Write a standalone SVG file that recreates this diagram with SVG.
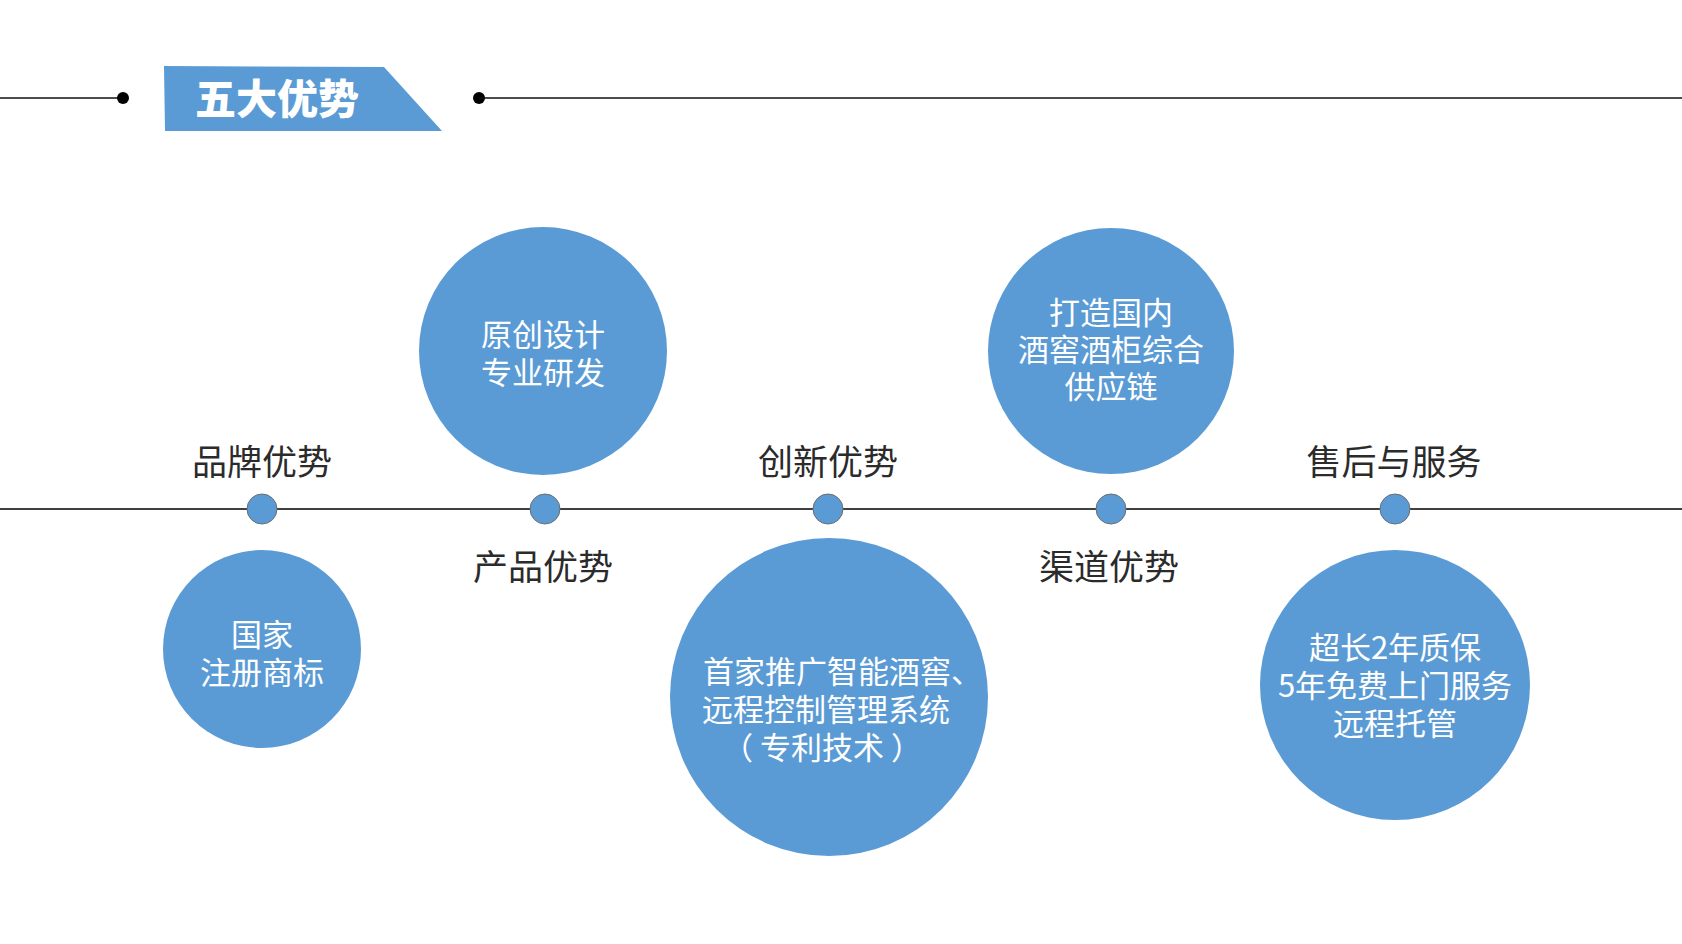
<svg xmlns="http://www.w3.org/2000/svg" width="1682" height="944" viewBox="0 0 1682 944">
<style>
.big{fill:#5B9BD5}
.dot{fill:#5B9BD5;stroke:#6d6d6d;stroke-width:1}
.lbl{font-family:"Noto Sans CJK SC","Noto Sans",sans-serif;font-size:35px;fill:#2b2b2b;text-anchor:middle}
.ct{font-family:"Noto Sans CJK SC","Noto Sans",sans-serif;font-size:31px;fill:#ffffff;text-anchor:middle}
</style>
<rect width="1682" height="944" fill="#ffffff"/>
<g id="header">
<line x1="0" y1="98" x2="123" y2="98" stroke="#111" stroke-width="1.5"/>
<circle cx="123" cy="98" r="6" fill="#000"/>
<polygon points="164,66 384,67 442,131 165,131" fill="#5B9BD5"/>
<text x="277" y="114" font-family="'Noto Sans CJK SC',sans-serif" font-weight="900" font-size="41" fill="#fff" text-anchor="middle">五大优势</text>
<circle cx="479" cy="98" r="6" fill="#000"/>
<line x1="479" y1="98" x2="1682" y2="98" stroke="#111" stroke-width="1.5"/>
</g>
<g id="connectors">
<line x1="0" y1="509" x2="1682" y2="509" stroke="#404040" stroke-width="2"/>
</g>
<g id="node-brand">
<text class="lbl" x="262" y="475">品牌优势</text>
<circle class="dot" cx="262" cy="509" r="15"/>
<circle class="big" cx="262" cy="649" r="99"/>
<text class="ct" x="262" y="646">国家</text>
<text class="ct" x="262" y="684">注册商标</text>
</g>
<g id="node-product">
<circle class="big" cx="543" cy="351" r="124"/>
<text class="ct" x="543" y="346">原创设计</text>
<text class="ct" x="543" y="384">专业研发</text>
<circle class="dot" cx="545" cy="509" r="15"/>
<text class="lbl" x="543" y="580">产品优势</text>
</g>
<g id="node-innovation">
<text class="lbl" x="828" y="475">创新优势</text>
<circle class="dot" cx="828" cy="509" r="15"/>
<circle class="big" cx="829" cy="697" r="159"/>
<text class="ct" x="703" y="683" style="text-anchor:start">首家推广智能酒窖、</text>
<text class="ct" x="702" y="721" style="text-anchor:start">远程控制管理系统</text>
<text class="ct" x="822" y="759">（ 专利技术 ）</text>
</g>
<g id="node-channel">
<circle class="big" cx="1111" cy="351" r="123"/>
<text class="ct" x="1111" y="324">打造国内</text>
<text class="ct" x="1111" y="361">酒窖酒柜综合</text>
<text class="ct" x="1111" y="398">供应链</text>
<circle class="dot" cx="1111" cy="509" r="15"/>
<text class="lbl" x="1109" y="580">渠道优势</text>
</g>
<g id="node-service">
<text class="lbl" x="1394" y="475">售后与服务</text>
<circle class="dot" cx="1395" cy="509" r="15"/>
<circle class="big" cx="1395" cy="685" r="135"/>
<text class="ct" x="1395" y="659">超长2年质保</text>
<text class="ct" x="1395" y="697">5年免费上门服务</text>
<text class="ct" x="1395" y="735">远程托管</text>
</g>
</svg>
